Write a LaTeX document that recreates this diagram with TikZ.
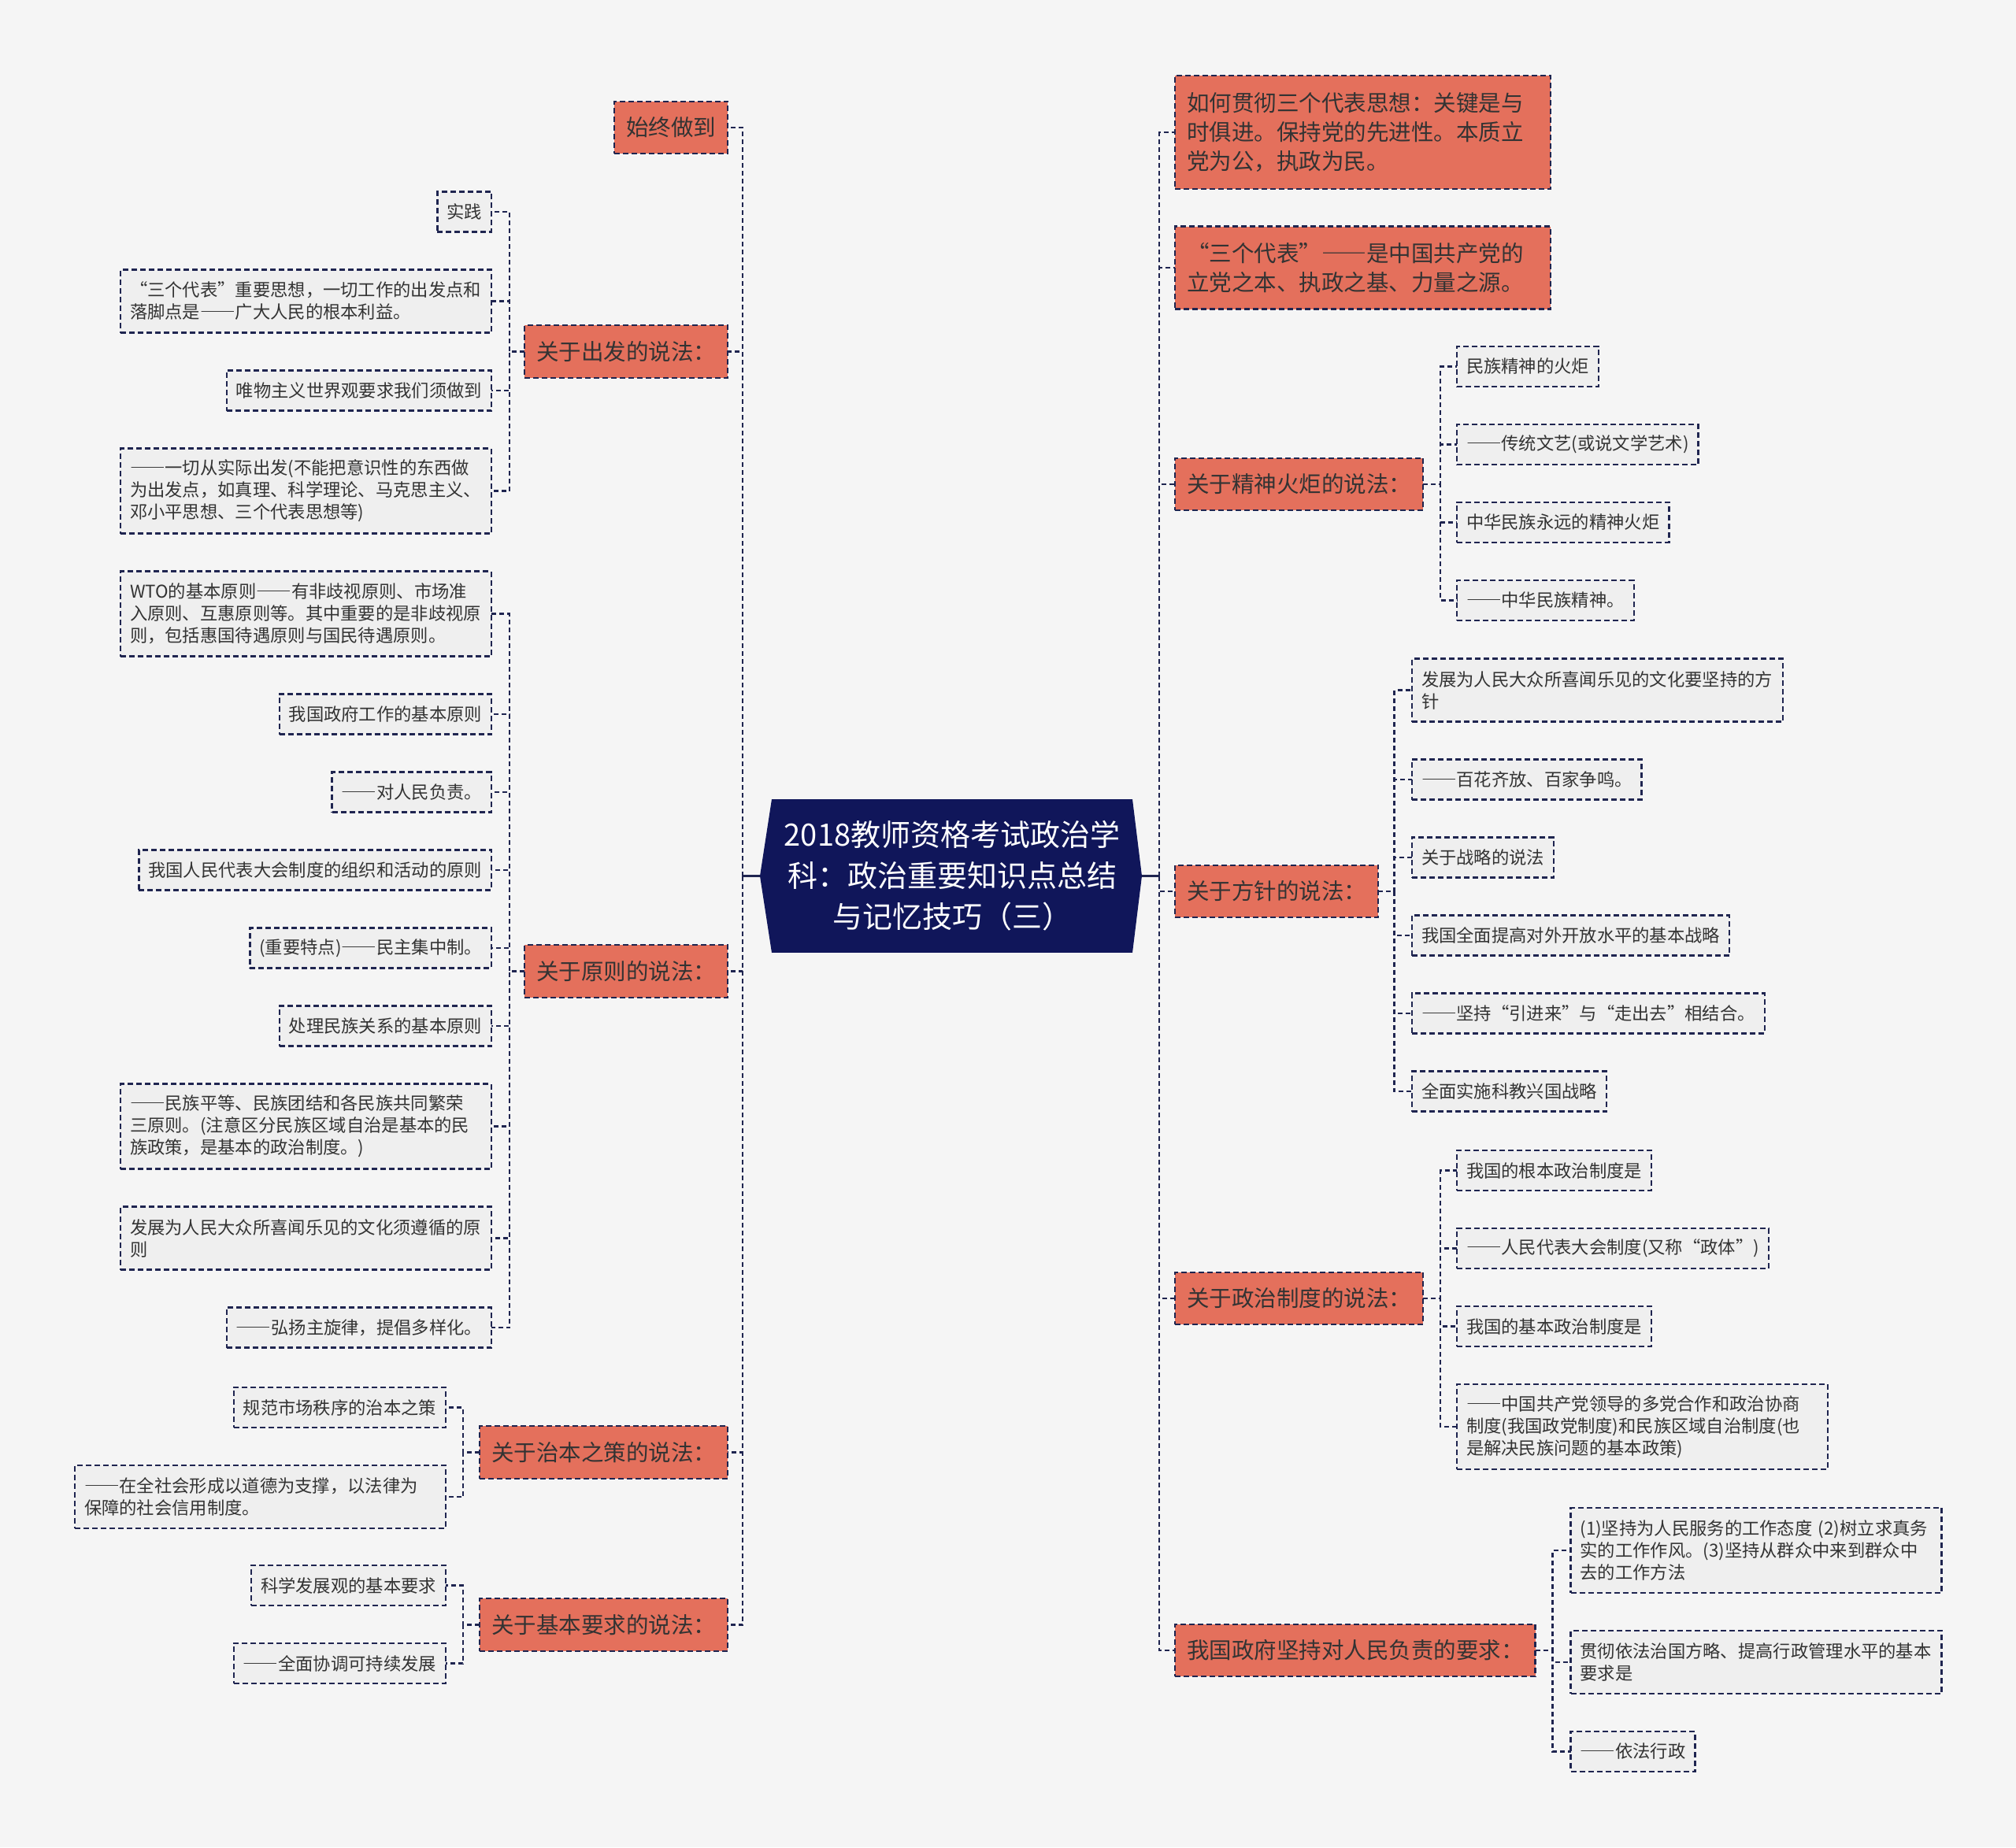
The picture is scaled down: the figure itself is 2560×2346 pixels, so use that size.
\documentclass[tikz,border=0pt]{standalone}
\usepackage{fontspec}
\setmainfont[Script=CJK,Language=Chinese Simplified]{Noto Sans CJK SC}
\usetikzlibrary{positioning,calc}
\definecolor{navy}{HTML}{10165A}
\definecolor{linec}{HTML}{1F2550}
\definecolor{topicc}{HTML}{E4705C}
\definecolor{leafc}{HTML}{EFEFEF}
\definecolor{bgc}{HTML}{F5F5F5}
\definecolor{txt}{HTML}{333333}
\tikzset{
 rootbox/.style={fill=navy,text=white,align=center,minimum width=458pt,
             minimum height=195pt,inner sep=0pt,outer sep=0pt,
             font=\fontsize{38pt}{52pt}\selectfont},
 topic/.style={draw=linec,fill=topicc,line width=2.4pt,dash pattern=on 7pt off 4pt,
             text=txt,inner xsep=15pt,inner ysep=4pt,outer sep=0pt,minimum height=66.5pt,
             font=\fontsize{28.5pt}{37pt}\selectfont},
 leaf/.style={draw=linec,fill=leafc,line width=2.4pt,dash pattern=on 7pt off 4pt,
             text=txt,inner xsep=12pt,inner ysep=4pt,outer sep=0pt,minimum height=51pt,
             font=\fontsize{22.3pt}{28pt}\selectfont},
 wide/.style={text width=447pt,align=left,minimum height=#1},
 link/.style={draw=linec,line width=2.8pt,dash pattern=on 6pt off 4pt},
 stem/.style={draw=linec,line width=2.8pt}
}
\begin{document}
\begin{tikzpicture}[x=1pt,y=-1pt,node distance=48pt]
\path[use as bounding box,fill=bgc] (0,0) rectangle (2560,2346);

% centre
\node[rootbox] (root) at (1209,1112.5) {2018教师资格考试政治学\\科：政治重要知识点总结\\与记忆技巧（三）};
\fill[navy] (root.north west) -- ++(-15pt,-97.5pt) coordinate (rootL) -- (root.south west) -- cycle;
\fill[navy] (root.north east) -- ++(12pt,-97.5pt) coordinate (rootR) -- (root.south east) -- cycle;
\coordinate (lhub) at (943,1112.5);
\coordinate (rhub) at (1472,1112.5);
\draw[stem] (rootL) -- (lhub);
\draw[stem] (rootR) -- (rhub);

% left topics
\node[topic,anchor=east] (always) at (924,162) {始终做到};
\node[topic,anchor=east] (origin) at (924,446.5) {关于出发的说法：};
\node[topic,anchor=east] (principle) at (924,1233.5) {关于原则的说法：};
\node[topic,anchor=east] (remedy) at (924,1844.5) {关于治本之策的说法：};
\node[topic,anchor=east] (basic) at (924,2063.5) {关于基本要求的说法：};
\foreach \n in {always,origin,principle,remedy,basic}
  \draw[link] (lhub) |- (\n.east);

% right topics
\node[topic,anchor=west,wide=144pt] (howto) at (1492,168) {如何贯彻三个代表思想：关键是与\\时俱进。保持党的先进性。本质立\\党为公，执政为民。};
\node[topic,anchor=west,wide=105pt] (threerep) at (1492,340) {“三个代表”——是中国共产党的\\立党之本、执政之基、力量之源。};
\node[topic,anchor=west] (torch) at (1492,615) {关于精神火炬的说法：};
\node[topic,anchor=west] (policy) at (1492,1132) {关于方针的说法：};
\node[topic,anchor=west] (system) at (1492,1649) {关于政治制度的说法：};
\node[topic,anchor=west] (govern) at (1492,2096) {我国政府坚持对人民负责的要求：};
\foreach \n in {howto,threerep,torch,policy,system,govern}
  \draw[link] (rhub) |- (\n.west);

% origin
\node[leaf,anchor=north east] (practice) at (624,243.5) {实践};
\node[leaf,below=of practice.south east,anchor=north east,wide=80pt] (interest) {“三个代表”重要思想，一切工作的出发点和\\落脚点是——广大人民的根本利益。};
\node[leaf,below=of interest.south east,anchor=north east] (materialism) {唯物主义世界观要求我们须做到};
\node[leaf,below=of materialism.south east,anchor=north east,wide=108pt] (reality) {——一切从实际出发(不能把意识性的东西做\\为出发点，如真理、科学理论、马克思主义、\\邓小平思想、三个代表思想等)};
\foreach \n in {practice,interest,materialism,reality}
  \draw[link] (origin.west) -- ++(-19pt,0) |- (\n.east);

% principle
\node[leaf,anchor=north east,wide=108pt] (wto) at (624,725.5) {WTO的基本原则——有非歧视原则、市场准\\入原则、互惠原则等。其中重要的是非歧视原\\则，包括惠国待遇原则与国民待遇原则。};
\node[leaf,below=of wto.south east,anchor=north east] (govwork) {我国政府工作的基本原则};
\node[leaf,below=of govwork.south east,anchor=north east] (resp) {——对人民负责。};
\node[leaf,below=of resp.south east,anchor=north east] (npc) {我国人民代表大会制度的组织和活动的原则};
\node[leaf,below=of npc.south east,anchor=north east] (feature) {(重要特点)——民主集中制。};
\node[leaf,below=of feature.south east,anchor=north east] (ethnic) {处理民族关系的基本原则};
\node[leaf,below=of ethnic.south east,anchor=north east,wide=108pt] (equal) {——民族平等、民族团结和各民族共同繁荣\\三原则。(注意区分民族区域自治是基本的民\\族政策，是基本的政治制度。)};
\node[leaf,below=of equal.south east,anchor=north east,wide=80pt] (culture) {发展为人民大众所喜闻乐见的文化须遵循的原\\则};
\node[leaf,below=of culture.south east,anchor=north east] (melody) {——弘扬主旋律，提倡多样化。};
\foreach \n in {wto,govwork,resp,npc,feature,ethnic,equal,culture,melody}
  \draw[link] (principle.west) -- ++(-19pt,0) |- (\n.east);

% remedy
\node[leaf,anchor=north east] (market) at (566,1762) {规范市场秩序的治本之策};
\node[leaf,below=of market.south east,anchor=north east,wide=80pt] (credit) {——在全社会形成以道德为支撑，以法律为\\保障的社会信用制度。};
\foreach \n in {market,credit}
  \draw[link] (remedy.west) -- ++(-21pt,0) |- (\n.east);

% basic
\node[leaf,anchor=north east] (outlook) at (566,1988) {科学发展观的基本要求};
\node[leaf,below=of outlook.south east,anchor=north east] (coord) {——全面协调可持续发展};
\foreach \n in {outlook,coord}
  \draw[link] (basic.west) -- ++(-21pt,0) |- (\n.east);

% torch
\node[leaf,anchor=north west] (torchA) at (1850,440) {民族精神的火炬};
\node[leaf,below=of torchA.south west,anchor=north west] (torchB) {——传统文艺(或说文学艺术)};
\node[leaf,below=of torchB.south west,anchor=north west] (torchC) {中华民族永远的精神火炬};
\node[leaf,below=of torchC.south west,anchor=north west] (torchD) {——中华民族精神。};
\foreach \n in {torchA,torchB,torchC,torchD}
  \draw[link] (torch.east) -- ++(22pt,0) |- (\n.west);

% policy
\node[leaf,anchor=north west,wide=80pt] (policyA) at (1793,836.5) {发展为人民大众所喜闻乐见的文化要坚持的方\\针};
\node[leaf,below=of policyA.south west,anchor=north west] (policyB) {——百花齐放、百家争鸣。};
\node[leaf,below=of policyB.south west,anchor=north west] (policyC) {关于战略的说法};
\node[leaf,below=of policyC.south west,anchor=north west] (policyD) {我国全面提高对外开放水平的基本战略};
\node[leaf,below=of policyD.south west,anchor=north west] (policyE) {——坚持“引进来”与“走出去”相结合。};
\node[leaf,below=of policyE.south west,anchor=north west] (policyF) {全面实施科教兴国战略};
\foreach \n in {policyA,policyB,policyC,policyD,policyE,policyF}
  \draw[link] (policy.east) -- ++(20.5pt,0) |- (\n.west);

% system
\node[leaf,anchor=north west] (systemA) at (1850,1461) {我国的根本政治制度是};
\node[leaf,below=of systemA.south west,anchor=north west] (systemB) {——人民代表大会制度(又称“政体”)};
\node[leaf,below=of systemB.south west,anchor=north west] (systemC) {我国的基本政治制度是};
\node[leaf,below=of systemC.south west,anchor=north west,wide=108pt] (systemD) {——中国共产党领导的多党合作和政治协商\\制度(我国政党制度)和民族区域自治制度(也\\是解决民族问题的基本政策)};
\foreach \n in {systemA,systemB,systemC,systemD}
  \draw[link] (system.east) -- ++(22pt,0) |- (\n.west);

% govern
\node[leaf,anchor=north west,wide=108pt] (governA) at (1994.5,1915) {(1)坚持为人民服务的工作态度 (2)树立求真务\\实的工作作风。(3)坚持从群众中来到群众中\\去的工作方法};
\node[leaf,below=of governA.south west,anchor=north west,wide=80pt] (governB) {贯彻依法治国方略、提高行政管理水平的基本\\要求是};
\node[leaf,below=of governB.south west,anchor=north west] (governC) {——依法行政};
\foreach \n in {governA,governB,governC}
  \draw[link] (govern.east) -- ++(22pt,0) |- (\n.west);
\end{tikzpicture}
\end{document}
